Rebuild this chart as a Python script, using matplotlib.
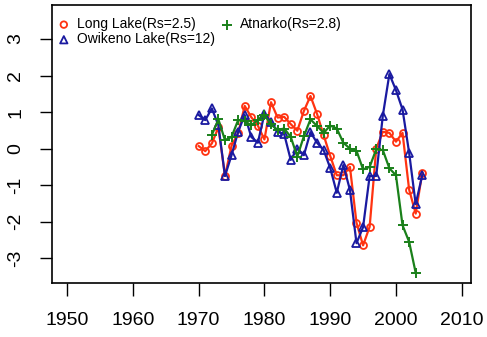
import matplotlib
matplotlib.use("Agg")
import matplotlib.pyplot as plt

plt.rcParams['font.family'] = ['Liberation Sans', 'DejaVu Sans']

long_years = list(range(1970, 2005))
long_vals = [0.07, -0.07, 0.14, 0.58, -0.75, 0.08, 0.42, 1.17, 0.86, 0.63, 0.25,
             1.27, 0.85, 0.87, 0.67, 0.49, 1.03, 1.44, 0.95, 0.37, -0.2, -0.73,
             -0.73, -0.5, -2.03, -2.65, -2.14, 0.0, 0.46, 0.43, 0.19, 0.43,
             -1.12, -1.78, -0.66]

owi_years = list(range(1970, 2005))
owi_vals = [0.92, 0.78, 1.1, 0.64, -0.75, -0.18, 0.46, 0.92, 0.32, 0.16, 0.95,
            0.73, 0.46, 0.4, -0.31, 0.0, -0.18, 0.45, 0.16, -0.04, -0.53, -1.21,
            -0.45, -1.13, -2.59, -2.15, -0.75, -0.75, 0.9, 2.04, 1.6, 1.07,
            -0.11, -1.52, -0.73]

atn_years = list(range(1972, 2004))
atn_vals = [0.37, 0.8, 0.23, 0.32, 0.78, 0.75, 0.64, 0.78, 0.92, 0.66, 0.51,
            0.55, 0.32, -0.22, 0.34, 0.8, 0.62, 0.43, 0.63, 0.55, 0.16, 0.0,
            -0.06, -0.57, -0.5, -0.02, -0.04, -0.54, -0.73, -2.1, -2.55, -3.4]

labels = ["Long Lake(Rs=2.5)", "Owikeno Lake(Rs=12)", "Atnarko(Rs=2.8)"]
xticks = [1950, 1960, 1970, 1980, 1990, 2000, 2010]
yticks = [-3, -2, -1, 0, 1, 2, 3]

red = '#ff3311'
blue = '#1a1aa0'
green = '#1a801a'

fig = plt.figure(figsize=(4.87, 3.37), dpi=100)
ax = fig.add_axes([0.1068, 0.1602, 0.967 - 0.1068, 0.985 - 0.1602])

ax.plot(long_years, long_vals, color=red, lw=1.6, marker='o', ms=5,
        mfc='none', mew=1.3)
ax.plot(owi_years, owi_vals, color=blue, lw=1.6, marker='^', ms=6,
        mfc='none', mew=1.3)
ax.plot(atn_years, atn_vals, color=green, lw=1.6, marker='+', ms=7,
        mew=1.4)

h1 = ax.scatter([], [], marker='o', facecolors='none', edgecolors=red, s=22, lw=1.3)
h2 = ax.scatter([], [], marker='^', facecolors='none', edgecolors=blue, s=28, lw=1.3)
h3 = ax.scatter([], [], marker='+', color=green, s=45, lw=1.4)
ax.legend([h1, h2, h3], labels, ncol=2, frameon=False, fontsize=10,
          loc='upper left', bbox_to_anchor=(0.0, 0.976), handlelength=0.9,
          handletextpad=0.5, columnspacing=0.4, labelspacing=0.08,
          borderaxespad=0.0, borderpad=0.4)

ax.set_xlim(1947.7, 2011.4)
ax.set_ylim(-3.68, 3.93)
ax.set_xticks(xticks)
ax.set_yticks(yticks)
ax.set_yticklabels([str(v) for v in yticks], rotation=90, va='center')
ax.tick_params(axis='both', labelsize=14, length=9, width=1.0, direction='out')
ax.tick_params(axis='x', pad=12)
ax.tick_params(axis='y', pad=11)
for s in ax.spines.values():
    s.set_linewidth(1.2)

fig.savefig('out.png', dpi=100)
